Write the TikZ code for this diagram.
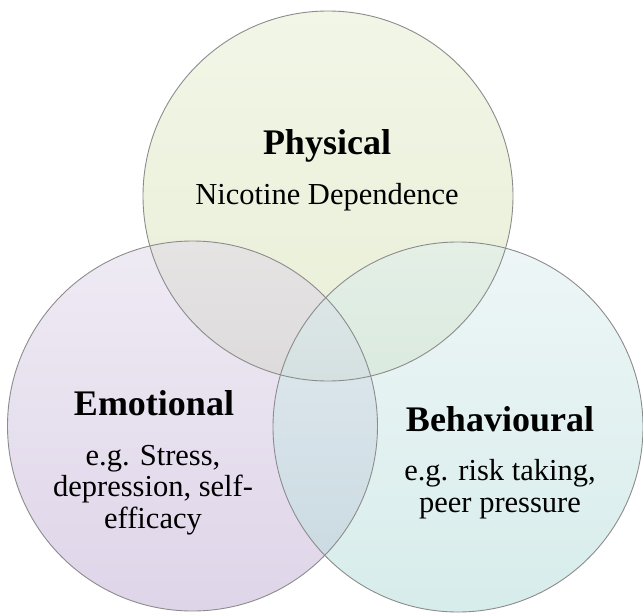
\documentclass[tikz,border=0pt]{standalone}
\usepackage{fontspec}
\setmainfont{Liberation Serif}
\begin{document}
\begin{tikzpicture}[x=1pt,y=-1pt,
  venn/.style={fill opacity=0.5},
  rim/.style={draw=black!45,line width=0.9pt},
  title/.style={font=\fontsize{36}{40}\selectfont\bfseries,inner sep=0pt,anchor=base},
  body/.style={font=\fontsize{30.5}{31.5}\selectfont,align=center,inner sep=0pt,anchor=base}]
  \definecolor{physTop}{RGB}{230,238,208}
  \definecolor{physBot}{RGB}{212,224,176}
  \definecolor{emoTop}{RGB}{224,216,234}
  \definecolor{emoBot}{RGB}{192,172,212}
  \definecolor{behTop}{RGB}{222,238,240}
  \definecolor{behBot}{RGB}{176,220,216}
  \useasboundingbox[fill=white] (0,0) rectangle (643,613);
  % circle centres
  \coordinate (cP) at (328,196);
  \coordinate (cE) at (192.5,426);
  \coordinate (cB) at (458,427);
  % translucent fills
  \begin{scope}
    \clip (0,0) rectangle (643,613);
    \shade[venn,top color=physTop,bottom color=physBot] (cP) circle[radius=185];
    \shade[venn,top color=emoTop,bottom color=emoBot] (cE) circle[radius=185];
    \shade[venn,top color=behTop,bottom color=behBot] (cB) circle[radius=185];
    % outlines
    \draw[rim] (cP) circle[radius=185];
    \draw[rim] (cE) circle[radius=185];
    \draw[rim] (cB) circle[radius=185];
  \end{scope}
  % labels (a multi-line node sits on the baseline of its last line)
  \node[title] (tP) at (327,154) {Physical};
  \node[body] (dP) at (327,204) {Nicotine Dependence};
  \node[title] (tE) at (154,415) {Emotional};
  \node[body] (dE) at (153,528) {e.g. Stress,\\depression, self-\\efficacy};
  \node[title] (tB) at (500,431) {Behavioural};
  \node[body] (dB) at (500,512) {e.g. risk taking,\\peer pressure};
\end{tikzpicture}
\end{document}
